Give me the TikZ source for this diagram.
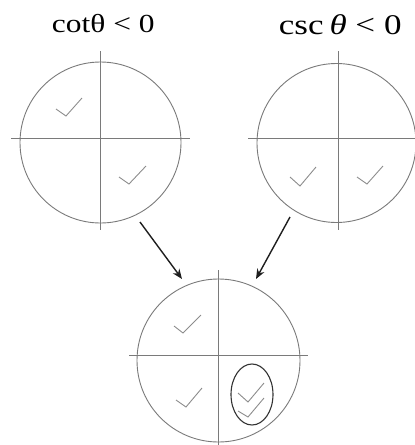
\documentclass[tikz,border=0pt]{standalone}
\usepackage{fontspec}
\usepackage{graphicx}
\setmainfont{Liberation Serif}
\usetikzlibrary{arrows.meta,shapes.geometric}
\definecolor{axgray}{HTML}{7A7A7A}
\definecolor{chkgray}{HTML}{8C8C8C}
\definecolor{arrdark}{HTML}{1E1E1E}
\tikzset{
  quad/.style={circle,draw=axgray,line width=0.9pt,inner sep=0pt},
  axis/.style={draw=axgray,line width=0.9pt},
  chk/.style={draw=chkgray,line width=0.9pt},
  arr/.style={draw=arrdark,line width=1.4pt,-{Stealth[length=10pt,width=8pt]}},
  ring/.style={ellipse,draw=black!80,line width=1.1pt,inner sep=0pt},
  title/.style={anchor=base west,inner sep=0pt}
}
\begin{document}
\begin{tikzpicture}[x=1pt,y=-1pt]
\useasboundingbox (0,0) rectangle (415,445);
% titles
\node[title,font=\fontsize{26}{28}\selectfont] (t1) at (51.7,32.2) {\scalebox{1.21}[1]{cotθ < 0}};
\node[title,font=\fontsize{28.5}{30}\selectfont] (t2) at (278.7,34.6) {\scalebox{1.23}[1]{csc\,\textit{θ} < 0}};
% circles
\node[quad,minimum size=161pt] (c1) at (100.5,142.5) {};
\node[quad,minimum size=159pt] (c2) at (336.5,143) {};
\node[quad,minimum size=163pt] (c3) at (218.5,360.5) {};
% axes
\draw[axis] (11,138) -- (190,138);
\draw[axis] (100.7,51) -- (100.7,230);
\draw[axis] (248,138) -- (415,138);
\draw[axis] (338,51) -- (338,230);
\draw[axis] (129,355) -- (308,355);
\draw[axis] (218.3,270) -- (218.3,445);
% checks
\draw[chk] (56,109) -- (66,116) -- (82,98);
\draw[chk] (119,177) -- (129,184) -- (146,166);
\draw[chk] (290,177) -- (300,186) -- (316,167);
\draw[chk] (357,177) -- (367,184) -- (383,166);
\draw[chk] (174,326) -- (183,333) -- (201,315);
\draw[chk] (176,400) -- (186,407) -- (202,388);
\draw[chk] (238,393) -- (248,402) -- (264,383);
\draw[chk] (238,411) -- (248,417) -- (264,398);
% ellipse
\node[ring,minimum width=42pt,minimum height=61pt] (e) at (252,394.5) {};
% arrows
\coordinate (a1s) at (140,222);
\coordinate (a1e) at (182,279);
\coordinate (a2s) at (290,217);
\coordinate (a2e) at (256,279);
\draw[arr] (a1s) -- (a1e);
\draw[arr] (a2s) -- (a2e);
\end{tikzpicture}
\end{document}
